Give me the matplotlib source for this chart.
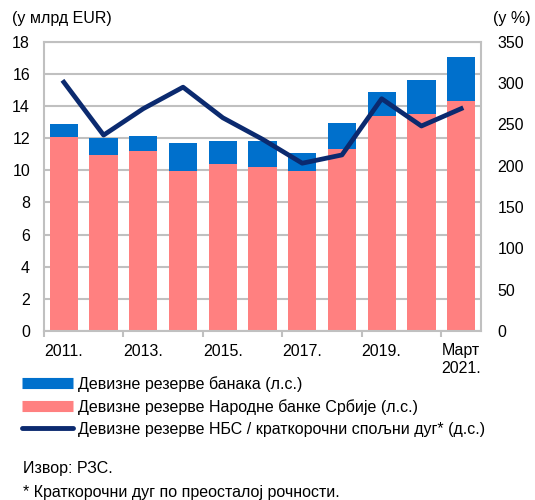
import matplotlib.pyplot as plt
from matplotlib.lines import Line2D

plt.rcParams['font.family'] = ['Liberation Sans', 'DejaVu Sans']

# подаци
labels = ['2011.', '2012.', '2013.', '2014.', '2015.', '2016.', '2017.', '2018.', '2019.', '2020.', 'Март\n2021.']
nbs = [12.1, 10.95, 11.2, 9.95, 10.4, 10.2, 9.95, 11.3, 13.4, 13.5, 14.3]
banks = [0.8, 1.05, 0.95, 1.75, 1.45, 1.6, 1.1, 1.65, 1.5, 2.1, 2.75]
ratio = [301, 237, 269, 295, 258, 232, 203, 213, 281, 248, 269]
shown_labels = ['2011.', '2013.', '2015.', '2017.', '2019.', 'Март\n2021.']

c_blue = '#0070CC'
c_pink = '#FF8080'
c_navy = '#0B2A6F'
c_grid = '#C0C0C0'
fs = 11.5

fig = plt.figure(figsize=(5.35, 5.0), dpi=100)
ax = fig.add_axes([44/535, 1-331/500, (481-44)/535, (331-41.7)/500])

x = list(range(len(labels)))
ax.bar(x, nbs, width=0.71, color=c_pink, zorder=2)
ax.bar(x, banks, bottom=nbs, width=0.71, color=c_blue, zorder=2)

ax.set_ylim(0, 18)
ax.set_yticks(range(0, 19, 2))
ax.set_xlim(-0.5, len(labels) - 0.5)
ax.grid(axis='y', color=c_grid, linewidth=1.5, zorder=0)
ax.set_axisbelow(True)
for s in ax.spines.values():
    s.set_color(c_grid)
    s.set_linewidth(1.5)

# подписи на средини, цртице на ивицама
ax.set_xticks([0, 2, 4, 6, 8, 10])
ax.set_xticklabels(shown_labels)
ax.set_xticks([-0.5, 1.5, 3.5, 5.5, 7.5, 9.5], minor=True)
ax.tick_params(axis='x', which='major', length=0, pad=9, labelsize=fs)
ax.tick_params(axis='x', which='minor', length=4, width=1.5, color=c_grid)
ax.tick_params(axis='y', length=0, pad=10, labelsize=fs)

ax2 = ax.twinx()
ax2.plot(x, ratio, color=c_navy, linewidth=3.4, solid_joinstyle='round', zorder=3)
ax2.set_ylim(0, 350)
ax2.set_yticks(range(0, 351, 50))
ax2.tick_params(axis='y', length=0, pad=12, labelsize=fs)
for s in ax2.spines.values():
    s.set_visible(False)

fig.text(12/535, 1-18/500, '(у млрд EUR)', fontsize=fs, va='center', ha='left')
fig.text(531/535, 1-18/500, '(у %)', fontsize=fs, va='center', ha='right')

handles = [
    Line2D([], [], color=c_blue, linewidth=8, solid_capstyle='butt'),
    Line2D([], [], color=c_pink, linewidth=8, solid_capstyle='butt'),
    Line2D([], [], color=c_navy, linewidth=3.5, solid_capstyle='round'),
]
names = ['Девизне резерве банака (л.с.)',
         'Девизне резерве Народне банке Србије (л.с.)',
         'Девизне резерве НБС / краткорочни спољни дуг* (д.с.)']
fig.legend(handles, names, loc='upper left', bbox_to_anchor=(22/535, 1-376/500),
           frameon=False, fontsize=fs, handlelength=3.2, handletextpad=0.3,
           labelspacing=0.45, borderpad=0, borderaxespad=0)

fig.text(23/535, 1-468/500, 'Извор: РЗС.', fontsize=fs, va='center', ha='left')
fig.text(23/535, 1-493/500, '* Краткорочни дуг по преосталој рочности.', fontsize=fs,
         va='center', ha='left')

fig.savefig('out.png', dpi=100)
